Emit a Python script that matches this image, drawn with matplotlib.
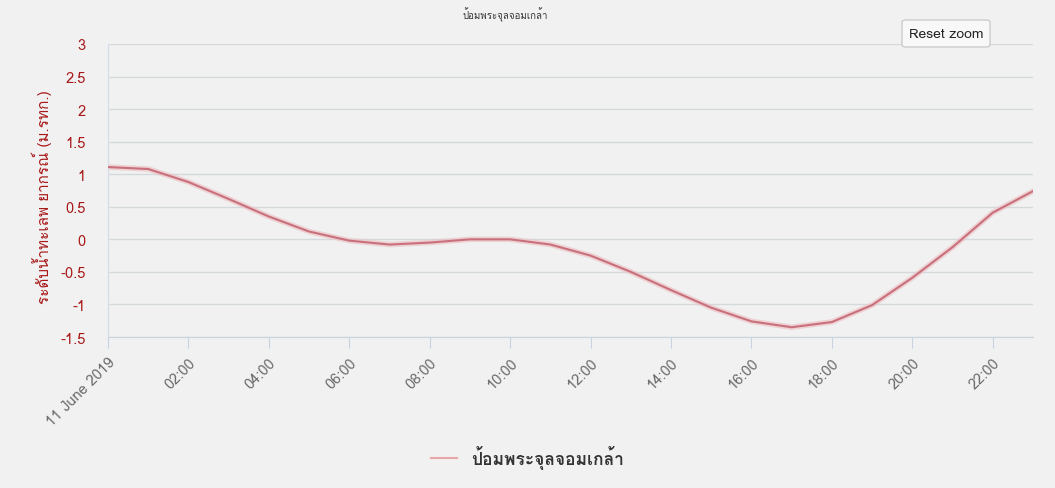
import matplotlib
matplotlib.use("Agg")
import matplotlib.pyplot as plt
from matplotlib import font_manager
from matplotlib.ft2font import FT2Font
from matplotlib.patches import FancyBboxPatch

# --- Data: water level, 11 June 2019, hourly ---
hours = list(range(24))
levels = [1.11, 1.08, 0.88, 0.62, 0.35, 0.12, -0.02, -0.08, -0.05, 0.0, 0.0, -0.08,
          -0.25, -0.50, -0.78, -1.05, -1.26, -1.35, -1.27, -1.01, -0.59, -0.12, 0.41, 0.74]
tick_hours = list(range(0, 24, 2))
tick_labels = ["11 June 2019"] + ["%02d:00" % h for h in tick_hours[1:]]
station = "ป้อมพระจุลจอมเกล้า"
ylabel = "ระดับน้ำทะเลพ ยากรณ์ (ม.รทก.)"

# find a font that has Thai glyphs
thai_font = None
for f in font_manager.fontManager.ttflist:
    try:
        ft = FT2Font(f.fname)
        if ft.get_char_index(ord("ก")):
            thai_font = f.name
            break
    except Exception:
        pass
fams = ([thai_font] if thai_font else []) + ["DejaVu Sans"]
plt.rcParams["font.family"] = fams

bg = "#f1f1f1"
fig = plt.figure(figsize=(10.55, 4.89), dpi=100, facecolor=bg)
ax = fig.add_axes([108 / 1055, 1 - 338 / 489, (1033 - 108) / 1055, (338 - 45) / 489])
ax.set_facecolor(bg)

ax.plot(hours, levels, color="#ecc4c7", lw=4, alpha=0.7, zorder=2)
ax.plot(hours, levels, color="#c9707c", lw=1.5, zorder=3, label=station)

ax.set_xlim(0, 23)
ax.set_ylim(-1.5, 3)
ax.set_yticks([-1.5, -1, -0.5, 0, 0.5, 1, 1.5, 2, 2.5, 3])
ax.set_yticklabels(["-1.5", "-1", "-0.5", "0", "0.5", "1", "1.5", "2", "2.5", "3"])
ax.set_xticks(tick_hours)
ax.set_xticklabels(tick_labels, rotation=45, ha="right", rotation_mode="anchor",
                   color="#6a6a6a", fontsize=10.5)
ax.tick_params(axis="y", colors="#a81818", labelsize=10.5, length=0, pad=16)
ax.tick_params(axis="x", length=8, color="#c8d3e0", pad=5)

ax.grid(axis="y", color="#d6d9dc", lw=1)
ax.set_axisbelow(True)
for s in ["top", "right"]:
    ax.spines[s].set_visible(False)
ax.spines["left"].set_color("#d3dcea")
ax.spines["bottom"].set_color("#c8d3e0")

ax.set_ylabel(ylabel, color="#a81818", fontsize=11, labelpad=12)
ax.yaxis.set_label_coords(-0.06, 0.48)
fig.text(505 / 1055, 1 - 15 / 489, station, ha="center", va="center", fontsize=7, color="#333333")

leg = fig.legend(loc="center", bbox_to_anchor=(0.5, 1 - 458 / 489), frameon=False,
                 fontsize=12.5, handlelength=1.5)
leg.get_lines()[0].set_color("#e8a5aa")
for t in leg.get_texts():
    t.set_color("#333333")
    t.set_fontweight("bold")

# reset zoom button
btn = FancyBboxPatch((902 / 1055, 1 - 48 / 489), 88 / 1055, 27 / 489,
                     boxstyle="round,pad=0,rounding_size=0.004", transform=fig.transFigure,
                     facecolor="#f8f8f8", edgecolor="#cccccc", lw=1)
fig.patches.append(btn)
fig.text(946 / 1055, 1 - 35 / 489, "Reset zoom", ha="center", va="center", fontsize=10,
         color="#222222")

fig.savefig("out.png", dpi=100, facecolor=bg)
